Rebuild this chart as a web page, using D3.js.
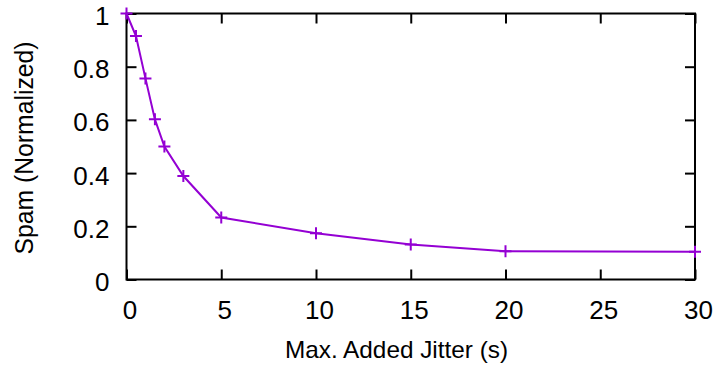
<!DOCTYPE html>
<html>
<head>
<meta charset="utf-8">
<script src="https://cdn.jsdelivr.net/npm/d3@7"></script>
<style>
  html, body { margin: 0; padding: 0; background: #fff; }
  svg text { font-family: "Liberation Sans", Arial, Helvetica, sans-serif; fill: #000; }
</style>
</head>
<body>
<svg id="chart" width="716" height="369"></svg>
<script>
// 数据：最大附加抖动 (s) 与归一化垃圾量
const jitter = [0, 0.5, 1, 1.5, 2, 3, 5, 10, 15, 20, 30];
const spam = [1, 0.915, 0.756, 0.602, 0.5, 0.389, 0.233, 0.174, 0.132, 0.106, 0.104];
const xTicks = [0, 5, 10, 15, 20, 25, 30];
const yTicks = [0, 0.2, 0.4, 0.6, 0.8, 1];

const lineColor = "#9400d3";

const svg = d3.select("#chart");
const margin = { top: 13.5, right: 21, bottom: 89.5, left: 126.5 };
const width = 716;
const height = 369;
const innerWidth = width - margin.left - margin.right;
const innerHeight = height - margin.top - margin.bottom;

const x = d3.scaleLinear().domain([0, 30]).range([0, innerWidth]);
const y = d3.scaleLinear().domain([0, 1]).range([innerHeight, 0]);

const g = svg.append("g")
    .attr("transform", `translate(${margin.left},${margin.top})`);

// 底部坐标轴（刻度朝内）
const xAxis = g.append("g")
    .attr("transform", `translate(0,${innerHeight})`)
    .call(d3.axisBottom(x).tickValues(xTicks).tickFormat(d3.format("d")).tickSizeInner(-10).tickSizeOuter(0));

// 左侧坐标轴
const yAxis = g.append("g")
    .call(d3.axisLeft(y).tickValues(yTicks).tickFormat(d => d === 0 || d === 1 ? d : d.toFixed(1)).tickSizeInner(-10).tickSizeOuter(0));

// 顶部与右侧镜像刻度
const topAxis = g.append("g")
    .call(d3.axisTop(x).tickValues(xTicks).tickSizeInner(-10).tickSizeOuter(0));
const rightAxis = g.append("g")
    .attr("transform", `translate(${innerWidth},0)`)
    .call(d3.axisRight(y).tickValues(yTicks).tickSizeInner(-10).tickSizeOuter(0));
topAxis.selectAll(".tick text").remove();
rightAxis.selectAll(".tick text").remove();

g.selectAll(".domain").remove();
g.selectAll(".tick line").attr("stroke", "#000").attr("stroke-width", 2);

xAxis.selectAll(".tick text")
    .style("font-size", "26px")
    .attr("x", 3)
    .attr("y", 39)
    .attr("dy", null);

yAxis.selectAll(".tick text")
    .style("font-size", "26px")
    .attr("x", -17)
    .attr("y", 11)
    .attr("dy", null);

// 边框
g.append("rect")
    .attr("x", 0)
    .attr("y", 0)
    .attr("width", innerWidth)
    .attr("height", innerHeight)
    .attr("fill", "none")
    .attr("stroke", "#000")
    .attr("stroke-width", 2);

// 折线
const line = d3.line()
    .x((d, i) => x(jitter[i]))
    .y(d => y(d));

g.append("path")
    .datum(spam)
    .attr("d", line)
    .attr("fill", "none")
    .attr("stroke", lineColor)
    .attr("stroke-width", 2);

// "+" 标记
const m = 6;
g.selectAll(".marker")
    .data(spam)
    .enter()
    .append("path")
    .attr("class", "marker")
    .attr("d", (d, i) => {
        const cx = x(jitter[i]);
        const cy = y(d);
        return `M${cx - m},${cy}H${cx + m}M${cx},${cy - m}V${cy + m}`;
    })
    .attr("stroke", lineColor)
    .attr("stroke-width", 2)
    .attr("fill", "none");

// 坐标轴标题
svg.append("text")
    .attr("x", 285)
    .attr("y", 358)
    .attr("text-anchor", "start")
    .style("font-size", "24px")
    .attr("textLength", 223)
    .attr("lengthAdjust", "spacingAndGlyphs")
    .text("Max. Added Jitter (s)");

svg.append("text")
    .attr("transform", `translate(33,148) rotate(-90)`)
    .attr("text-anchor", "middle")
    .style("font-size", "25px")
    .attr("textLength", 213)
    .attr("lengthAdjust", "spacingAndGlyphs")
    .text("Spam (Normalized)");
</script>
</body>
</html>
